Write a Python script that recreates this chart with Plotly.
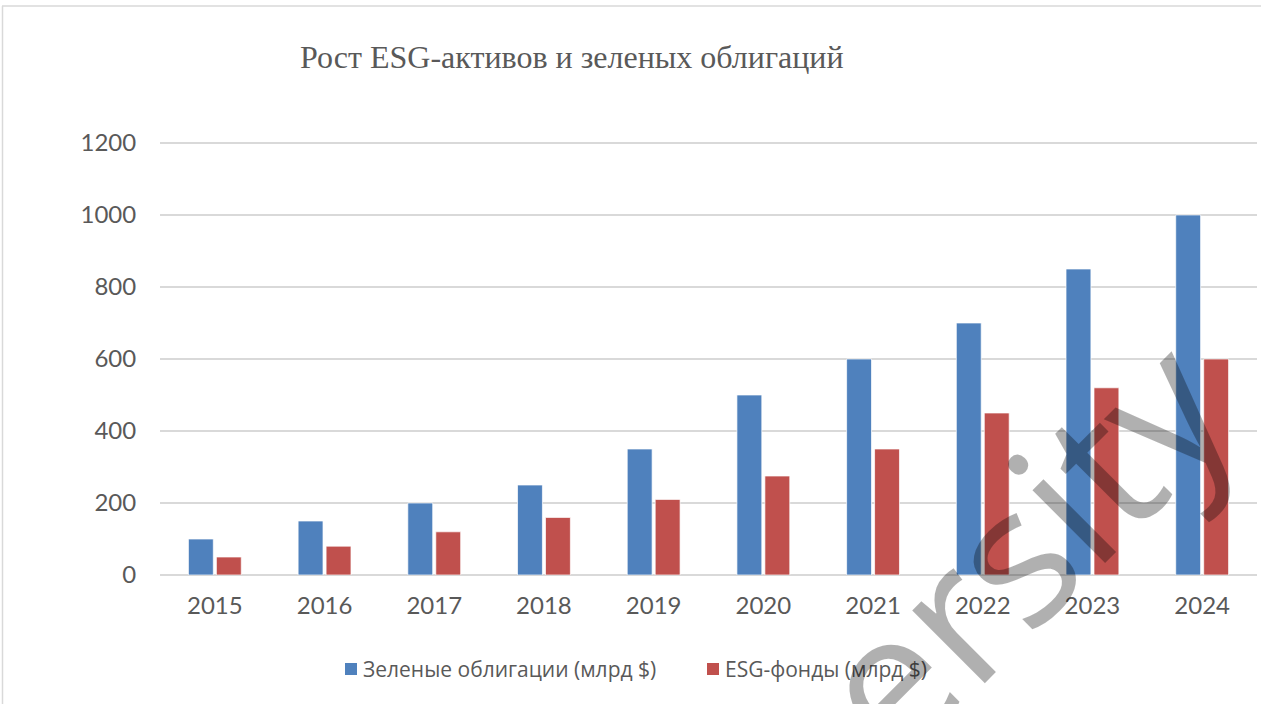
import plotly.graph_objects as go

years = ["2015", "2016", "2017", "2018", "2019", "2020", "2021", "2022", "2023", "2024"]
green_bonds = [100, 150, 200, 250, 350, 500, 600, 700, 850, 1000]
esg_funds = [50, 80, 120, 160, 210, 275, 350, 450, 520, 600]
series_names = ["Зеленые облигации (млрд $)", "ESG-фонды (млрд $)"]
series_colors = ["#4F81BD", "#C0504D"]
title_text = "Рост ESG-активов и зеленых облигаций"
watermark_text = "ersity"

W, H = 1261, 704
L, R, T, B = 160, 4, 141, 129
pw = W - L - R
ph = H - T - B

tick_font = dict(family="Lato, Calibri, sans-serif", size=24, color="#595959")
legend_font = dict(family="Open Sans, Calibri, sans-serif", size=21, color="#595959")

fig = go.Figure()
for vals, name, col in zip([green_bonds, esg_funds], series_names, series_colors):
    fig.add_trace(go.Bar(x=years, y=vals, name=name, showlegend=False,
                         marker=dict(color=col, line=dict(color="rgba(255,255,255,0.7)", width=1))))

def px_x(x):
    return (x - L) / pw

def px_y(y):
    return (H - B - y) / ph

annotations = [
    dict(text=title_text, xref="paper", yref="paper", x=px_x(572), y=px_y(57),
         xanchor="center", yanchor="middle", showarrow=False,
         font=dict(family="Times New Roman, Liberation Serif, serif", size=32, color="#595959")),
]
shapes = [
    dict(type="line", xref="paper", yref="paper", x0=px_x(2), x1=px_x(W + 5), y0=px_y(6), y1=px_y(6),
         line=dict(color="#D9D9D9", width=1.5)),
    dict(type="line", xref="paper", yref="paper", x0=px_x(2.5), x1=px_x(2.5), y0=px_y(6), y1=px_y(H + 5),
         line=dict(color="#D9D9D9", width=1.5)),
]

# custom legend
legend_sq_x = [345, 707]
for sx, name, col in zip(legend_sq_x, series_names, series_colors):
    shapes.append(dict(type="rect", xref="paper", yref="paper",
                       x0=px_x(sx), x1=px_x(sx + 12), y0=px_y(675), y1=px_y(663),
                       fillcolor=col, line=dict(width=0)))
    annotations.append(dict(text=name, xref="paper", yref="paper", x=px_x(sx + 16), y=px_y(669),
                            xanchor="left", yanchor="middle", showarrow=False, font=legend_font))

annotations.append(dict(text=watermark_text, xref="paper", yref="paper", x=px_x(1018), y=px_y(544),
                        xanchor="center", yanchor="middle", showarrow=False, textangle=-45,
                        font=dict(family="Open Sans, sans-serif", size=192,
                                  color="rgba(0,0,0,0.31)")))

fig.update_layout(
    width=W, height=H,
    margin=dict(l=L, r=R, t=T, b=B),
    paper_bgcolor="white", plot_bgcolor="white",
    barmode="group", bargap=0.49, bargroupgap=0.11,
    showlegend=False,
    xaxis=dict(showgrid=False, showline=False, zeroline=False, tickfont=tick_font,
               ticks="outside", ticklen=9, tickcolor="rgba(0,0,0,0)"),
    yaxis=dict(range=[0, 1205.5], tickvals=[0, 200, 400, 600, 800, 1000, 1200],
               showgrid=True, gridcolor="#D9D9D9", gridwidth=1.5,
               zeroline=True, zerolinecolor="#D9D9D9", zerolinewidth=1.5, showline=False,
               tickfont=tick_font, ticks="outside", ticklen=18, tickcolor="rgba(0,0,0,0)"),
    annotations=annotations,
    shapes=shapes,
)

fig.write_html("out.html", config={"displayModeBar": False},
               post_script="document.body.style.margin='0';document.body.style.overflow='hidden';")
